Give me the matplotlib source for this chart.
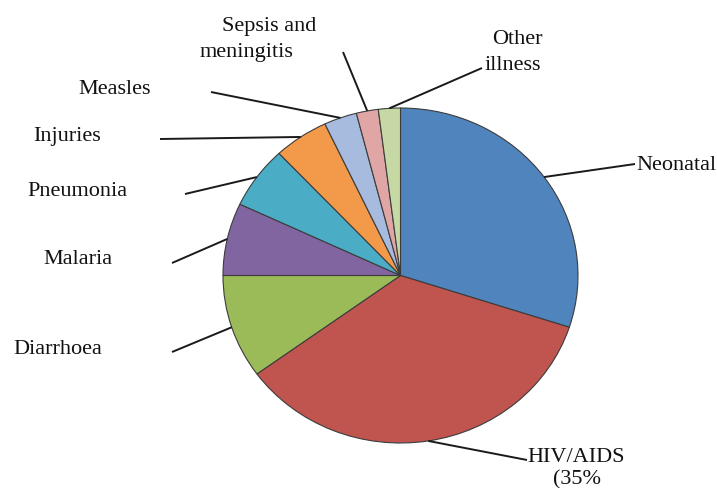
import numpy as np
import matplotlib.pyplot as plt

# causes of death, shares in percent (clockwise from 12 o'clock)
causes = ['Neonatal', 'HIV/AIDS\n(35%', 'Diarrhoea', 'Malaria', 'Pneumonia',
          'Injuries', 'Measles', 'Sepsis and\nmeningitis', 'Other\nillness']
shares = [30, 35, 10, 7, 6, 5, 3, 2, 2]
colors = ['#5084BD', '#C0544E', '#9BBB59', '#8165A1', '#4BACC6',
          '#F39A4A', '#A6BBDE', '#E0A6A5', '#C6D9A5']

W, H = 717, 488
cx, cy, rx, ry = 400.5, 275.5, 177.5, 167.5   # pie placement in pixels


def to_data(px, py):
    return (px - cx) / rx, (cy - py) / ry


# where each leader line ends, and where each text line sits (pixels)
leader_ends = [(635, 164), (527, 460), (172, 352), (172, 263), (185, 194),
               (160, 139), (211, 92), (343, 52), (482, 68)]
text_pos = [[(676, 166)], [(576, 457), (577, 480)], [(58, 349)], [(78, 260)],
            [(77, 192)], [(67, 137)], [(115, 90)], [(269, 27), (246, 52)],
            [(517, 40), (513, 65)]]

plt.rcParams['font.family'] = ['Liberation Serif', 'DejaVu Serif']

fig = plt.figure(figsize=(W / 100, H / 100), dpi=100)
ax = fig.add_axes([0, 0, 1, 1])
wedges, _ = ax.pie(shares, colors=colors, startangle=90, counterclock=False,
                   wedgeprops=dict(edgecolor='#3c3c3c', linewidth=0.8))
ax.set_aspect('auto')
x0, y1 = to_data(0, 0)
x1, y0 = to_data(W, H)
ax.set_xlim(x0, x1)
ax.set_ylim(y0, y1)
ax.axis('off')

# leader lines start at the middle of each wedge's arc
ends = np.cumsum(shares)
mids = 90 - (ends - np.array(shares) / 2) / 100 * 360
for i, name in enumerate(causes):
    a = np.radians(mids[i])
    ex, ey = to_data(*leader_ends[i])
    ax.plot([np.cos(a), ex], [np.sin(a), ey], color='#1a1a1a', lw=1.4,
            solid_capstyle='butt')
    for line, (tx, ty) in zip(name.split('\n'), text_pos[i]):
        ax.text(*to_data(tx, ty), line, ha='center', va='center',
                fontsize=16, color='#111111')

fig.savefig('out.png', dpi=100)
